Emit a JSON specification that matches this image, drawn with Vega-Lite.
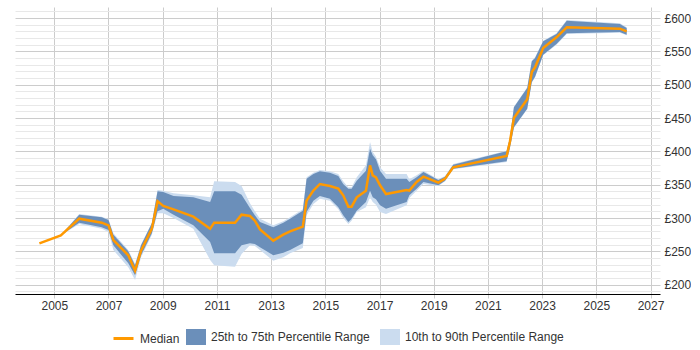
{
  "$schema": "https://vega.github.io/schema/vega-lite/v6.json",
  "width": 645,
  "height": 287,
  "padding": {"left": 15, "top": 5, "right": 0, "bottom": 0},
  "config": {
    "view": {"stroke": null},
    "font": "Liberation Sans",
    "axis": {"labelFont": "Liberation Sans", "labelFontSize": 12, "labelColor": "#333"},
    "legend": {"labelFont": "Liberation Sans", "labelFontSize": 12, "labelColor": "#333"}
  },
  "data": {
    "values": [
      {"t": 2004.45, "med": 262, "p25": 262, "p75": 262, "p10": 262, "p90": 262},
      {"t": 2005.24, "med": 274, "p25": 274, "p75": 274, "p10": 274, "p90": 274},
      {"t": 2005.92, "med": 299, "p25": 293, "p75": 305, "p10": 291, "p90": 306},
      {"t": 2006.75, "med": 293, "p25": 286, "p75": 301, "p10": 284, "p90": 302},
      {"t": 2007.0, "med": 289, "p25": 282, "p75": 297, "p10": 279, "p90": 298},
      {"t": 2007.18, "med": 267, "p25": 259, "p75": 275, "p10": 252, "p90": 277},
      {"t": 2007.73, "med": 244, "p25": 232, "p75": 250, "p10": 226, "p90": 252},
      {"t": 2007.98, "med": 221, "p25": 214, "p75": 229, "p10": 207, "p90": 231},
      {"t": 2008.2, "med": 251, "p25": 244, "p75": 259, "p10": 241, "p90": 260},
      {"t": 2008.6, "med": 284, "p25": 277, "p75": 292, "p10": 275, "p90": 293},
      {"t": 2008.81, "med": 325, "p25": 310, "p75": 340, "p10": 307, "p90": 342},
      {"t": 2009.02, "med": 318, "p25": 314, "p75": 339, "p10": 307, "p90": 341},
      {"t": 2009.4, "med": 313, "p25": 305, "p75": 333, "p10": 300, "p90": 337},
      {"t": 2010.13, "med": 302, "p25": 289, "p75": 331, "p10": 284, "p90": 334},
      {"t": 2010.75, "med": 284, "p25": 264, "p75": 324, "p10": 237, "p90": 331},
      {"t": 2010.9, "med": 293, "p25": 247, "p75": 340, "p10": 229, "p90": 355},
      {"t": 2011.67, "med": 293, "p25": 247, "p75": 340, "p10": 227, "p90": 354},
      {"t": 2011.91, "med": 305, "p25": 259, "p75": 335, "p10": 246, "p90": 348},
      {"t": 2012.22, "med": 303, "p25": 262, "p75": 315, "p10": 259, "p90": 322},
      {"t": 2012.4, "med": 296, "p25": 261, "p75": 304, "p10": 258, "p90": 310},
      {"t": 2012.59, "med": 283, "p25": 256, "p75": 294, "p10": 252, "p90": 299},
      {"t": 2013.08, "med": 266, "p25": 244, "p75": 286, "p10": 236, "p90": 289},
      {"t": 2013.45, "med": 275, "p25": 248, "p75": 293, "p10": 241, "p90": 295},
      {"t": 2013.7, "med": 280, "p25": 252, "p75": 299, "p10": 247, "p90": 301},
      {"t": 2014.17, "med": 287, "p25": 262, "p75": 311, "p10": 255, "p90": 313},
      {"t": 2014.31, "med": 326, "p25": 309, "p75": 359, "p10": 304, "p90": 361},
      {"t": 2014.56, "med": 341, "p25": 326, "p75": 366, "p10": 321, "p90": 368},
      {"t": 2014.8, "med": 351, "p25": 333, "p75": 370, "p10": 329, "p90": 372},
      {"t": 2015.17, "med": 348, "p25": 329, "p75": 368, "p10": 326, "p90": 370},
      {"t": 2015.48, "med": 344, "p25": 316, "p75": 363, "p10": 313, "p90": 366},
      {"t": 2015.66, "med": 334, "p25": 304, "p75": 351, "p10": 300, "p90": 355},
      {"t": 2015.85, "med": 317, "p25": 294, "p75": 344, "p10": 291, "p90": 346},
      {"t": 2015.97, "med": 317, "p25": 299, "p75": 344, "p10": 296, "p90": 346},
      {"t": 2016.16, "med": 331, "p25": 311, "p75": 356, "p10": 309, "p90": 361},
      {"t": 2016.5, "med": 341, "p25": 324, "p75": 371, "p10": 316, "p90": 379},
      {"t": 2016.65, "med": 379, "p25": 341, "p75": 404, "p10": 331, "p90": 414},
      {"t": 2016.75, "med": 364, "p25": 331, "p75": 394, "p10": 324, "p90": 399},
      {"t": 2016.87, "med": 361, "p25": 328, "p75": 388, "p10": 320, "p90": 392},
      {"t": 2017.02, "med": 349, "p25": 319, "p75": 371, "p10": 309, "p90": 376},
      {"t": 2017.24, "med": 336, "p25": 314, "p75": 359, "p10": 306, "p90": 366},
      {"t": 2018.0, "med": 342, "p25": 324, "p75": 359, "p10": 319, "p90": 366},
      {"t": 2018.1, "med": 341, "p25": 334, "p75": 354, "p10": 330, "p90": 358},
      {"t": 2018.37, "med": 354, "p25": 344, "p75": 361, "p10": 341, "p90": 364},
      {"t": 2018.62, "med": 362, "p25": 354, "p75": 369, "p10": 351, "p90": 371},
      {"t": 2019.17, "med": 353, "p25": 349, "p75": 357, "p10": 348, "p90": 358},
      {"t": 2019.42, "med": 359, "p25": 356, "p75": 362, "p10": 355, "p90": 363},
      {"t": 2019.72, "med": 376, "p25": 374, "p75": 380, "p10": 373, "p90": 381},
      {"t": 2021.69, "med": 393, "p25": 385, "p75": 400, "p10": 384, "p90": 401},
      {"t": 2021.81, "med": 414, "p25": 405, "p75": 420, "p10": 404, "p90": 421},
      {"t": 2021.96, "med": 450, "p25": 436, "p75": 466, "p10": 435, "p90": 467},
      {"t": 2022.45, "med": 478, "p25": 464, "p75": 495, "p10": 463, "p90": 496},
      {"t": 2022.62, "med": 519, "p25": 504, "p75": 535, "p10": 503, "p90": 536},
      {"t": 2022.74, "med": 526, "p25": 512, "p75": 540, "p10": 511, "p90": 541},
      {"t": 2023.04, "med": 555, "p25": 545, "p75": 565, "p10": 544, "p90": 566},
      {"t": 2023.53, "med": 571, "p25": 561, "p75": 576, "p10": 560, "p90": 577},
      {"t": 2023.91, "med": 586, "p25": 577, "p75": 596, "p10": 576, "p90": 597},
      {"t": 2025.87, "med": 584, "p25": 579, "p75": 591, "p10": 578, "p90": 592},
      {"t": 2026.12, "med": 580, "p25": 575, "p75": 585, "p10": 574, "p90": 586}
    ]
  },
  "encoding": {
    "x": {
      "field": "t",
      "type": "quantitative",
      "scale": {"domain": [2003.55, 2027.35], "nice": false, "zero": false},
      "axis": {
        "title": null,
        "values": [2005, 2007, 2009, 2011, 2013, 2015, 2017, 2019, 2021, 2023, 2025, 2027],
        "tickCount": 50,
        "format": "d",
        "grid": true,
        "gridColor": "#cccccc",
        "domainColor": "#000000",
        "tickColor": "#cccccc",
        "tickSize": 4,
        "labelPadding": 2
      }
    }
  },
  "layer": [
    {
      "mark": {"type": "area", "opacity": 1},
      "encoding": {
        "y": {
          "field": "p10",
          "type": "quantitative",
          "scale": {"domain": [186, 616.5], "nice": false, "zero": false},
          "axis": {
            "title": null,
            "orient": "right",
            "values": [190, 200, 210, 220, 230, 240, 250, 260, 270, 280, 290, 300, 310, 320, 330, 340, 350, 360, 370, 380, 390, 400, 410, 420, 430, 440, 450, 460, 470, 480, 490, 500, 510, 520, 530, 540, 550, 560, 570, 580, 590, 600, 610],
            "tickCount": 100,
            "labelOverlap": false,
            "labelExpr": "datum.value % 50 === 0 ? '£' + datum.value : ''",
            "grid": true,
            "gridColor": {"condition": {"test": "datum.value % 50 === 0", "value": "#cccccc"}, "value": "#e8e8e8"},
            "domain": false,
            "ticks": false,
            "labelPadding": 4
          }
        },
        "y2": {"field": "p90"},
        "fill": {
          "datum": "10th to 90th Percentile Range",
          "scale": {
            "domain": ["25th to 75th Percentile Range", "10th to 90th Percentile Range"],
            "range": ["#6b8fba", "#cbdcef"]
          },
          "legend": {
            "title": null,
            "orient": "none",
            "direction": "horizontal",
            "legendX": 171,
            "legendY": 320,
            "columnPadding": 10,
            "labelOffset": 5,
            "symbolType": "M-1,-0.8H1V0.8H-1Z",
            "symbolSize": 400,
            "symbolOpacity": 0.8,
            "symbolStrokeWidth": 0
          }
        }
      }
    },
    {
      "mark": {"type": "area", "opacity": 1},
      "encoding": {
        "y": {"field": "p25", "type": "quantitative"},
        "y2": {"field": "p75"},
        "fill": {"datum": "25th to 75th Percentile Range"}
      }
    },
    {
      "mark": {"type": "line", "strokeWidth": 2.5},
      "encoding": {
        "y": {"field": "med", "type": "quantitative"},
        "stroke": {
          "datum": "Median",
          "scale": {"domain": ["Median"], "range": ["#ff9900"]},
          "legend": {
            "title": null,
            "orient": "none",
            "direction": "horizontal",
            "legendX": 97,
            "legendY": 320,
            "labelOffset": 5,
            "symbolType": "stroke",
            "symbolSize": 400,
            "symbolStrokeWidth": 3
          }
        }
      }
    }
  ]
}
